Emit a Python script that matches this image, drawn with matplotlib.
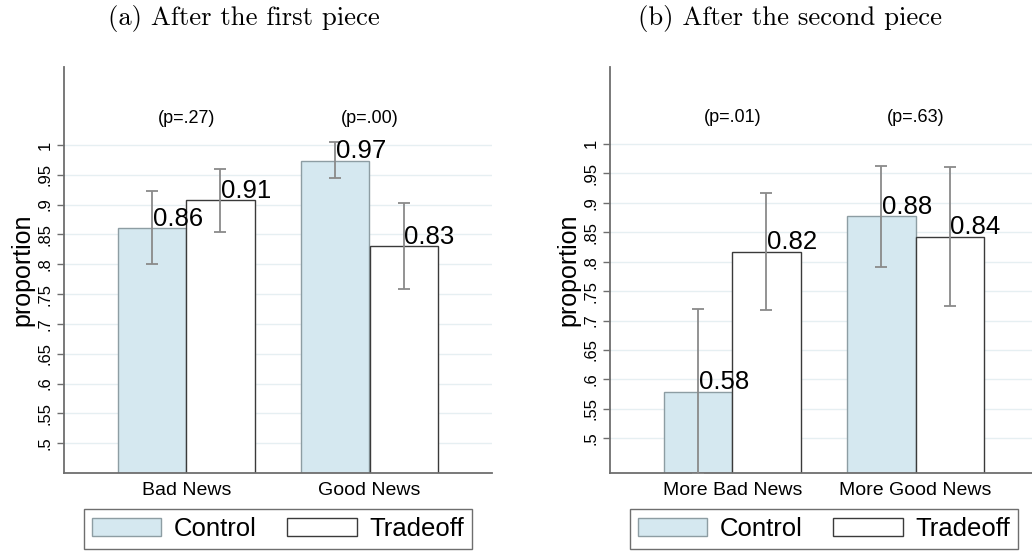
import matplotlib

matplotlib.use("Agg")
import matplotlib.pyplot as plt
from matplotlib.patches import Patch
import numpy as np

# panel (a): after the first piece
cats_a = ["Bad News", "Good News"]
control_a = [0.86, 0.973]
control_a_lo = [0.800, 0.944]
control_a_hi = [0.923, 1.004]
tradeoff_a = [0.907, 0.830]
tradeoff_a_lo = [0.854, 0.759]
tradeoff_a_hi = [0.960, 0.902]
pvals_a = ["(p=.27)", "(p=.00)"]

# panel (b): after the second piece
cats_b = ["More Bad News", "More Good News"]
control_b = [0.579, 0.877]
control_b_lo = [0.440, 0.791]
control_b_hi = [0.719, 0.963]
tradeoff_b = [0.816, 0.842]
tradeoff_b_lo = [0.718, 0.724]
tradeoff_b_hi = [0.916, 0.960]
pvals_b = ["(p=.01)", "(p=.63)"]

yticks = np.round(np.arange(0.5, 1.0001, 0.05), 2)

CTRL_FILL = "#d5e8f0"
CTRL_EDGE = "#8d9da3"
TRADE_EDGE = "#3a3a3a"
ERR_C = "#8a8a8a"
GRID_C = "#e6eff2"
SPINE_C = "#6e6e6e"

W, H = 1032, 552
fig = plt.figure(figsize=(W / 100, H / 100), dpi=100)
plt.rcParams["font.family"] = ["Liberation Sans", "DejaVu Sans"]


def px_axes(left, top, right, bottom):
    return fig.add_axes([left / W, 1 - bottom / H, (right - left) / W, (bottom - top) / H])


def fmt_tick(v):
    s = f"{v:.2f}".rstrip("0").rstrip(".")
    return s[1:] if s.startswith("0") else s


def panel(ax, cats, ctrl, ctrl_lo, ctrl_hi, trd, trd_lo, trd_hi, pvals, ylim):
    x = np.arange(1, len(cats) + 1)
    w = 0.374
    ax.set_xlim(1 / 3, 8 / 3)
    ax.set_ylim(*ylim)
    ax.set_yticks(yticks)
    ax.set_yticklabels([fmt_tick(v) for v in yticks], rotation=90, va="center")
    for y in yticks:
        ax.axhline(y, color=GRID_C, lw=1.0, zorder=0)

    xc = x - w / 2
    xt = x + w / 2
    ax.bar(xc, ctrl, w, bottom=0, color=CTRL_FILL, edgecolor=CTRL_EDGE, lw=1.0, zorder=2)
    ax.bar(xt, trd, w, bottom=0, color="white", edgecolor=TRADE_EDGE, lw=1.0, zorder=2)

    ctrl = np.array(ctrl)
    trd = np.array(trd)
    ax.errorbar(xc, ctrl, yerr=[ctrl - np.array(ctrl_lo), np.array(ctrl_hi) - ctrl],
                fmt="none", ecolor=ERR_C, elinewidth=1.3, capsize=4, capthick=1.3, zorder=3)
    ax.errorbar(xt, trd, yerr=[trd - np.array(trd_lo), np.array(trd_hi) - trd],
                fmt="none", ecolor=ERR_C, elinewidth=1.3, capsize=4, capthick=1.3, zorder=3)

    for xi, v in list(zip(xc, ctrl)) + list(zip(xt, trd)):
        ax.annotate(f"{v:.2f}", (xi, v), xytext=(0.5, 2), textcoords="offset points",
                    ha="left", va="baseline", fontsize=18.5, zorder=4)
    for xi, p in zip(x, pvals):
        ax.text(xi, 1.045, p, ha="center", va="center", fontsize=13)

    ax.set_xticks(x)
    ax.set_xticklabels(cats, fontsize=14)
    ax.tick_params(axis="x", length=0, pad=7)
    ax.tick_params(axis="y", length=5, width=1.0, color=SPINE_C, labelsize=12, pad=3)
    ax.set_ylabel("proportion", fontsize=18)
    ax.yaxis.set_label_coords(-0.068, 0.5)
    ax.spines[["right", "top"]].set_visible(False)
    for s in ["left", "bottom"]:
        ax.spines[s].set_color(SPINE_C)
        ax.spines[s].set_linewidth(1.3)
    ax.set_facecolor("white")


ax_a = px_axes(64, 66.7, 491.7, 472.7)
panel(ax_a, cats_a, control_a, control_a_lo, control_a_hi,
      tradeoff_a, tradeoff_a_lo, tradeoff_a_hi, pvals_a, (0.4507, 1.131))

ax_b = px_axes(610, 66.7, 1037.7, 472.7)
panel(ax_b, cats_b, control_b, control_b_lo, control_b_hi,
      tradeoff_b, tradeoff_b_lo, tradeoff_b_hi, pvals_b, (0.4416, 1.131))

handles = [
    Patch(facecolor=CTRL_FILL, edgecolor=CTRL_EDGE, lw=1.0, label="Control"),
    Patch(facecolor="white", edgecolor=TRADE_EDGE, lw=1.0, label="Tradeoff"),
]
for cx in (278, 824):
    leg = fig.legend(handles=handles, ncol=2, loc="center",
                     bbox_to_anchor=(cx / W, 1 - 529 / H), fontsize=18.5,
                     frameon=True, fancybox=False, handlelength=2.7, handleheight=0.7,
                     handletextpad=0.5, columnspacing=1.2, borderpad=0.3,
                     borderaxespad=0)
    leg.get_frame().set_edgecolor("#4a4a4a")
    leg.get_frame().set_linewidth(1.0)

title_font = dict(family="cmr10", fontsize=19.2, ha="center", va="center")
fig.text(244 / W, 1 - 18 / H, "(a) After the first piece", **title_font)
fig.text(789.5 / W, 1 - 18 / H, "(b) After the second piece", **title_font)

fig.savefig("out.png", dpi=100)
